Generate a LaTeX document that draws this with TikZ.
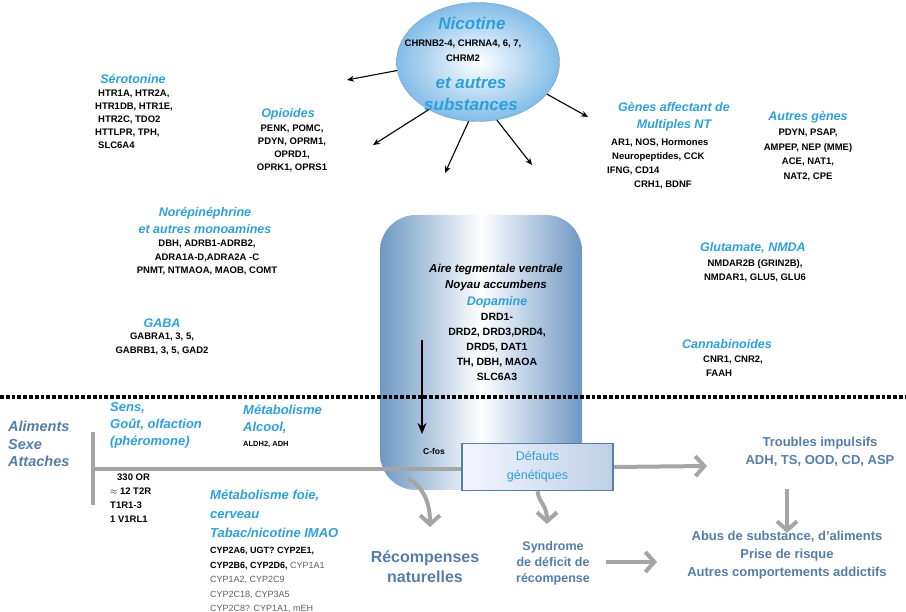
\documentclass[tikz,border=0pt]{standalone}
\usepackage{fontspec}
\setmainfont{Liberation Sans}
\usetikzlibrary{arrows.meta,shapes.geometric}
\definecolor{tblue}{RGB}{45,160,220}
\definecolor{sblue}{RGB}{85,125,170}
\definecolor{agray}{RGB}{165,165,165}
\definecolor{boxblue}{RGB}{110,152,195}
\definecolor{ellblue}{RGB}{130,188,232}
\definecolor{dfborder}{RGB}{85,125,165}
\definecolor{cypgray}{RGB}{95,95,95}
\begin{document}
\begin{tikzpicture}[x=1pt,y=-1pt,
  ttl/.style={font=\fontsize{12.5}{17}\selectfont\bfseries\itshape, text=tblue, inner sep=0pt, align=center},
  gene/.style={font=\fontsize{9.5}{13.5}\selectfont\bfseries, inner sep=0pt, align=center},
  lgene/.style={gene, align=left, anchor=west},
  blt/.style={font=\fontsize{13}{17}\selectfont\bfseries\itshape, text=tblue, inner sep=0pt, align=left, anchor=west},
  outtxt/.style={font=\fontsize{13}{18}\selectfont\bfseries, text=sblue, inner sep=0pt, align=center},
  narrow/.style={draw=black, line width=1.1pt, -{Stealth[length=7pt,width=6pt]}},
  garrow/.style={draw=agray, line width=4pt, -{Straight Barb[length=9pt,width=20pt]}},
  gline/.style={draw=agray, line width=3.5pt}
]
\useasboundingbox (0,0) rectangle (906,612);

% central box
\node[rounded corners=36pt, minimum width=202pt, minimum height=275pt, left color=boxblue, right color=boxblue, middle color=white, inner sep=0pt] (vta) at (481,352.5) {};

% Nicotine ellipse
\node[ellipse, minimum width=163pt, minimum height=119pt, inner color=white, outer color=ellblue, draw=ellblue!85!black, line width=0.4pt] (nic) at (478,62) {};
\node[font=\fontsize{17}{18}\selectfont\bfseries\itshape, text=tblue, inner sep=0pt] (nic1) at (472,23) {Nicotine};
\node[gene, font=\fontsize{9.5}{14.5}\selectfont\bfseries] (nic2) at (463,50.5) {CHRNB2-4, CHRNA4, 6, 7,\\CHRM2};
\node[font=\fontsize{17}{22}\selectfont\bfseries\itshape, text=tblue, inner sep=0pt, align=center] (nic3) at (471,94) {et autres\\substances};

% arrows from ellipse
\coordinate (e1) at (347,80);
\coordinate (e2) at (373,145);
\coordinate (e3) at (445,173);
\coordinate (e4) at (532,165);
\coordinate (e5) at (588,117);
\draw[narrow] (nic.186) -- (e1);
\draw[narrow] (nic.224) -- (e2);
\draw[narrow] (nic.261) -- (e3);
\draw[narrow] (nic.288) -- (e4);
\draw[narrow] (nic.335) -- (e5);

% Serotonine
\node[ttl] (sero) at (133,79) {Sérotonine};
\node[lgene, font=\fontsize{9.5}{13}\selectfont\bfseries] (serog) at (95,119) {\hspace*{3pt}HTR1A, HTR2A,\\HTR1DB, HTR1E,\\\hspace*{3pt}HTR2C, TDO2\\HTTLPR, TPH,\\\hspace*{3pt}SLC6A4};

% Opioides
\node[ttl] (opi) at (288,114) {Opioides};
\node[gene, font=\fontsize{9.5}{13}\selectfont\bfseries] (opig) at (292,148) {PENK, POMC,\\PDYN, OPRM1,\\OPRD1,\\OPRK1, OPRS1};

% Genes affectant
\node[ttl] (gam) at (674,117) {Gènes affectant de\\Multiples NT};
\node[lgene, font=\fontsize{9.5}{14}\selectfont\bfseries] (gamg) at (607,164) {\hspace*{4pt}AR1, NOS, Hormones\\\hspace*{5pt}Neuropeptides, CCK\\IFNG, CD14\\\hspace*{27pt}CRH1, BDNF};

% Autres genes
\node[ttl] (aut) at (808,117) {Autres gènes};
\node[gene, font=\fontsize{9.5}{14.7}\selectfont\bfseries] (autg) at (808,155) {PDYN, PSAP,\\AMPEP, NEP (MME)\\ACE, NAT1,\\NAT2, CPE};

% Norepinephrine
\node[ttl] (ne) at (205,220) {Norépinéphrine\\et autres monoamines};
\node[gene] (neg) at (207,257.5) {DBH, ADRB1-ADRB2,\\ADRA1A-D,ADRA2A -C\\PNMT, NTMAOA, MAOB, COMT};

% GABA
\node[ttl] (gaba) at (162,323) {GABA};
\node[gene, font=\fontsize{9.5}{14}\selectfont\bfseries] (gabag) at (162,344) {GABRA1, 3, 5,\\GABRB1, 3, 5, GAD2};

% Glutamate
\node[ttl] (glu) at (753,248) {Glutamate, NMDA};
\node[gene, font=\fontsize{9.5}{14}\selectfont\bfseries] (glug) at (755,271) {NMDAR2B (GRIN2B),\\NMDAR1, GLU5, GLU6};

% Cannabinoides
\node[ttl] (can) at (727,344) {Cannabinoides};
\node[lgene, font=\fontsize{9.5}{14}\selectfont\bfseries] (cang) at (703,366) {CNR1, CNR2,\\\hspace*{3pt}FAAH};

% VTA text
\node[font=\fontsize{11.5}{15.5}\selectfont\bfseries\itshape, inner sep=0pt, align=center] (vtat) at (496,277.5) {Aire tegmentale ventrale\\Noyau accumbens};
\node[ttl] (dop) at (497,302) {Dopamine};
\node[gene, font=\fontsize{10.5}{15}\selectfont\bfseries] (dopg) at (497,347) {DRD1-\\DRD2, DRD3,DRD4,\\DRD5, DAT1\\TH, DBH, MAOA\\SLC6A3};

% dotted separator
\coordinate (dl) at (0,397);
\coordinate (dr) at (906,397);
\draw[line width=3.8pt, dash pattern=on 3.8pt off 2pt] (dl) -- (dr);

% black arrow and C-fos
\coordinate (ba1) at (422,340);
\coordinate (ba2) at (422,434);
\draw[line width=2pt, -{Stealth[length=11pt,width=9pt]}] (ba1) -- (ba2);
\node[font=\fontsize{8.5}{10}\selectfont\bfseries, inner sep=0pt] (cfos) at (434,451) {C-fos};

% Defauts box
\node[draw=dfborder, line width=1.6pt, minimum width=151pt, minimum height=47pt, left color=blue!4!white, right color=boxblue!45!white, inner sep=0pt, align=center, font=\fontsize{12.5}{19}\selectfont, text=tblue] (def) at (537.5,467) {Défauts\\génétiques};

% bracket and horizontal line
\coordinate (bt) at (93,432);
\coordinate (bb) at (93,505);
\coordinate (bm) at (93,469);
\draw[gline] (bt) -- (bb);
\draw[gline] (bm) -- (bm -| def.west);

% bottom left texts
\node[font=\fontsize{14.5}{17.5}\selectfont\bfseries\itshape, text=sblue, inner sep=0pt, align=left, anchor=west] (ali) at (8,444) {Aliments\\Sexe\\Attaches};
\node[blt] (sens) at (110,425) {Sens,\\Goût, olfaction\\(phéromone)};
\node[blt] (meta) at (243,419.5) {Métabolisme\\Alcool,};
\node[font=\fontsize{7.5}{9}\selectfont\bfseries, inner sep=0pt, anchor=west] (aldh) at (243,444) {ALDH2, ADH};
\node[lgene, font=\fontsize{9.5}{14}\selectfont\bfseries] (olf) at (110,498) {\hspace*{7pt}330 OR\\$\approx$ 12 T2R\\T1R1-3\\1 V1RL1};
\node[blt, font=\fontsize{13}{19}\selectfont\bfseries\itshape] (metf) at (210,514) {Métabolisme foie,\\cerveau\\Tabac/nicotine IMAO};
\node[lgene, font=\fontsize{9}{14.5}\selectfont\bfseries] (cyp) at (210,580) {CYP2A6, UGT? CYP2E1,\\CYP2B6, CYP2D6, {\mdseries\color{cypgray}CYP1A1}\\{\mdseries\color{cypgray}CYP1A2, CYP2C9}\\{\mdseries\color{cypgray}CYP2C18, CYP3A5}\\{\mdseries\color{cypgray}CYP2C8? CYP1A1, mEH}};

% outcomes
\node[outtxt, font=\fontsize{16}{20}\selectfont\bfseries] (rec) at (425,567) {Récompenses\\naturelles};
\node[outtxt, font=\fontsize{12.5}{16}\selectfont\bfseries] (syn) at (553,563) {Syndrome\\de déficit de\\récompense};
\node[outtxt] (trb) at (820,452) {Troubles impulsifs\\ADH, TS, OOD, CD, ASP};
\node[outtxt] (abus) at (787,555) {Abus de substance, d'aliments\\Prise de risque\\Autres comportements addictifs};

% grey arrows
\coordinate (r1) at (408,478);
\coordinate (r2) at (430,527);
\draw[garrow] (r1) .. controls (424,488) and (430,503) .. (r2);
\coordinate (d2) at (547,524);
\draw[garrow] (def.south) .. controls (539,503) and (547,505) .. (d2);
\coordinate (t1) at (707,466);
\draw[garrow] (def.east) -- (t1);
\coordinate (v1) at (787,489);
\coordinate (v2) at (787,533);
\draw[garrow] (v1) -- (v2);
\coordinate (s1) at (606,562);
\coordinate (s2) at (657,562);
\draw[garrow] (s1) -- (s2);
\end{tikzpicture}
\end{document}
